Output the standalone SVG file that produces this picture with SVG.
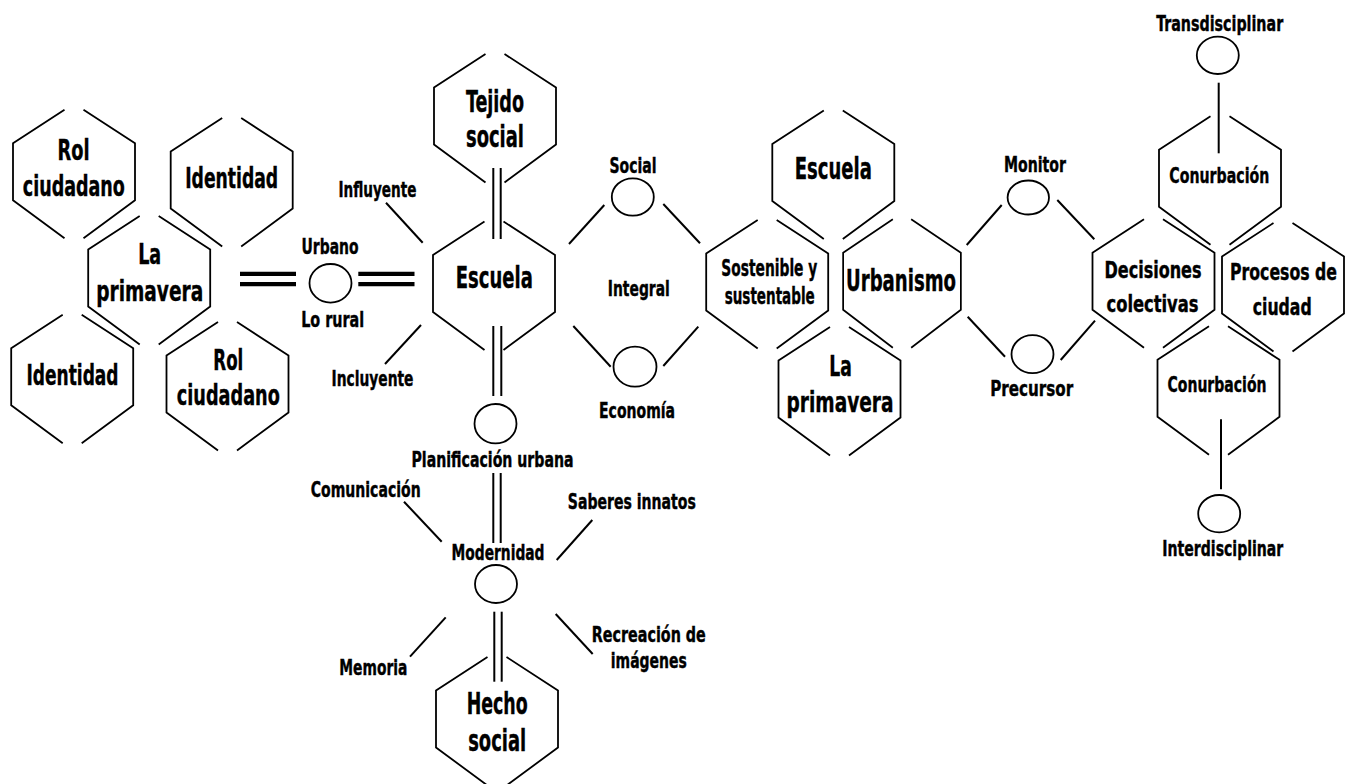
<svg xmlns="http://www.w3.org/2000/svg" xmlns:xlink="http://www.w3.org/1999/xlink" width="1355" height="784" viewBox="0 0 1355 784">
<style>
.hx{fill:none;stroke:#000;stroke-width:1.8;stroke-linecap:butt}
.ln{fill:none;stroke:#000;stroke-width:2}
.thick{fill:none;stroke:#000;stroke-width:4.2}
.ci{fill:#fff;stroke:#000;stroke-width:1.8}
text{font-family:"DejaVu Sans Condensed","DejaVu Sans","Liberation Sans",sans-serif;font-weight:bold;fill:#000;text-anchor:middle;stroke:#000;stroke-width:0.4}
.L{font-size:31px}
.M{font-size:28px}
.S{font-size:23px}
.T{font-size:21px}
</style>
<defs>
<path id="hex" class="hx" d="M -9.5 -62 L -61 -28.5 L -61 28.5 L -9.5 66.5 M 9.5 -62 L 61 -28.5 L 61 28.5 L 9.5 66.5"/>
</defs>
<rect width="1355" height="784" fill="#fff"/>

<g id="connectors">
<line class="thick" x1="240" y1="273.8" x2="296" y2="273.8"/>
<line class="thick" x1="240" y1="284.2" x2="296" y2="284.2"/>
<line class="thick" x1="358.3" y1="273.8" x2="414.5" y2="273.8"/>
<line class="thick" x1="358.3" y1="284.2" x2="414.5" y2="284.2"/>
<line class="ln" x1="493.3" y1="168" x2="493.3" y2="239"/>
<line class="ln" x1="500.7" y1="168" x2="500.7" y2="239"/>
<line class="ln" x1="493.3" y1="326" x2="493.3" y2="396"/>
<line class="ln" x1="501.3" y1="326" x2="501.3" y2="396"/>
<line class="ln" x1="493.3" y1="473" x2="493.3" y2="543"/>
<line class="ln" x1="500.7" y1="473" x2="500.7" y2="543"/>
<line class="ln" x1="494.3" y1="611.7" x2="494.3" y2="681.7"/>
<line class="ln" x1="501.7" y1="611.7" x2="501.7" y2="681.7"/>
<line class="ln" x1="386" y1="202.7" x2="422.7" y2="242.7"/>
<line class="ln" x1="421" y1="325" x2="385" y2="364"/>
<line class="ln" x1="604.3" y1="205" x2="569" y2="244"/>
<line class="ln" x1="663.3" y1="204" x2="700" y2="243.3"/>
<line class="ln" x1="573.3" y1="326" x2="610.7" y2="366.7"/>
<line class="ln" x1="698.3" y1="326.7" x2="663.3" y2="366"/>
<line class="ln" x1="1001.7" y1="205" x2="966.7" y2="245"/>
<line class="ln" x1="1057.3" y1="200" x2="1094.3" y2="239.3"/>
<line class="ln" x1="967.7" y1="316.7" x2="1005" y2="356.7"/>
<line class="ln" x1="1095" y1="320.7" x2="1060.7" y2="360"/>
<line class="ln" x1="404" y1="501.7" x2="441.7" y2="541.7"/>
<line class="ln" x1="592.3" y1="520" x2="556.7" y2="560"/>
<line class="ln" x1="445.7" y1="617.3" x2="410" y2="656.7"/>
<line class="ln" x1="555.7" y1="614" x2="592.7" y2="654"/>
<line class="ln" x1="1218.7" y1="82.7" x2="1218.7" y2="153.3"/>
<line class="ln" x1="1221" y1="419.3" x2="1221" y2="489.3"/>
</g>

<g id="n-rol1"><use xlink:href="#hex" href="#hex" transform="translate(74,171.7)"/>
<text class="M" x="73.5" y="160" textLength="32" lengthAdjust="spacingAndGlyphs">Rol</text>
<text class="M" x="73.8" y="196" textLength="102" lengthAdjust="spacingAndGlyphs">ciudadano</text></g>

<g id="n-identidad1"><use xlink:href="#hex" href="#hex" transform="translate(231.7,180)"/>
<text class="M" x="231.7" y="188.3" textLength="93" lengthAdjust="spacingAndGlyphs">Identidad</text></g>

<g id="n-primavera1"><use xlink:href="#hex" href="#hex" transform="translate(149.2,278)"/>
<text class="M" x="149.7" y="264" textLength="23" lengthAdjust="spacingAndGlyphs">La</text>
<text class="M" x="149.7" y="300.7" textLength="107" lengthAdjust="spacingAndGlyphs">primavera</text></g>

<g id="n-identidad2"><use xlink:href="#hex" href="#hex" transform="translate(72.2,376.7)"/>
<text class="M" x="72.5" y="385" textLength="92" lengthAdjust="spacingAndGlyphs">Identidad</text></g>

<g id="n-rol2"><use xlink:href="#hex" href="#hex" transform="translate(227.5,384)"/>
<text class="M" x="228.3" y="370" textLength="30" lengthAdjust="spacingAndGlyphs">Rol</text>
<text class="M" x="228.3" y="405" textLength="103" lengthAdjust="spacingAndGlyphs">ciudadano</text></g>

<g id="n-urbano"><ellipse class="ci" cx="330.5" cy="283.3" rx="21" ry="19.3"/>
<text class="T" x="330" y="254" textLength="57" lengthAdjust="spacingAndGlyphs">Urbano</text>
<text class="T" x="332.7" y="327.3" textLength="63" lengthAdjust="spacingAndGlyphs">Lo rural</text></g>

<g id="l-influyente"><text class="T" x="377.5" y="196.7" textLength="78" lengthAdjust="spacingAndGlyphs">Influyente</text></g>
<g id="l-incluyente"><text class="T" x="372.5" y="386" textLength="82" lengthAdjust="spacingAndGlyphs">Incluyente</text></g>

<g id="n-tejido"><use xlink:href="#hex" href="#hex" transform="translate(495,116)"/>
<text class="L" x="495" y="111.7" textLength="58" lengthAdjust="spacingAndGlyphs">Tejido</text>
<text class="L" x="495" y="146.7" textLength="58" lengthAdjust="spacingAndGlyphs">social</text></g>

<g id="n-escuela1"><use xlink:href="#hex" href="#hex" transform="translate(494,283.5)"/>
<text class="L" x="494.3" y="288.3" textLength="77" lengthAdjust="spacingAndGlyphs">Escuela</text></g>

<g id="n-planificacion"><ellipse class="ci" cx="495.5" cy="423.7" rx="21" ry="19.7"/>
<text class="T" x="492.5" y="467.3" textLength="162" lengthAdjust="spacingAndGlyphs">Planificación urbana</text></g>

<g id="n-modernidad"><ellipse class="ci" cx="496" cy="584" rx="21" ry="19"/>
<text class="T" x="498" y="560" textLength="93" lengthAdjust="spacingAndGlyphs">Modernidad</text></g>

<g id="l-comunicacion"><text class="T" x="365.7" y="496.7" textLength="110" lengthAdjust="spacingAndGlyphs">Comunicación</text></g>
<g id="l-saberes"><text class="T" x="631.8" y="509.3" textLength="128" lengthAdjust="spacingAndGlyphs">Saberes innatos</text></g>
<g id="l-memoria"><text class="T" x="373.3" y="675" textLength="68" lengthAdjust="spacingAndGlyphs">Memoria</text></g>
<g id="l-recreacion"><text class="T" x="648.8" y="641.7" textLength="114" lengthAdjust="spacingAndGlyphs">Recreación de</text>
<text class="T" x="648.8" y="668" textLength="76" lengthAdjust="spacingAndGlyphs">imágenes</text></g>

<g id="n-hecho"><use xlink:href="#hex" href="#hex" transform="translate(497,719)"/>
<text class="L" x="497.2" y="714.3" textLength="61" lengthAdjust="spacingAndGlyphs">Hecho</text>
<text class="L" x="497.2" y="750.7" textLength="58" lengthAdjust="spacingAndGlyphs">social</text></g>

<g id="n-social"><ellipse class="ci" cx="632.8" cy="197" rx="21" ry="18.7"/>
<text class="T" x="633" y="172.7" textLength="47" lengthAdjust="spacingAndGlyphs">Social</text></g>
<g id="l-integral"><text class="T" x="638.8" y="295.7" textLength="62" lengthAdjust="spacingAndGlyphs">Integral</text></g>
<g id="n-economia"><ellipse class="ci" cx="635" cy="366.7" rx="21.5" ry="20"/>
<text class="T" x="637" y="418.3" textLength="76" lengthAdjust="spacingAndGlyphs">Economía</text></g>

<g id="n-escuela2"><use xlink:href="#hex" href="#hex" transform="translate(833.3,172.5)"/>
<text class="L" x="833.3" y="179.3" textLength="77" lengthAdjust="spacingAndGlyphs">Escuela</text></g>

<g id="n-sostenible"><use xlink:href="#hex" href="#hex" transform="translate(767.2,282)"/>
<text class="S" x="769.3" y="276" textLength="96" lengthAdjust="spacingAndGlyphs">Sostenible y</text>
<text class="S" x="769.7" y="304" textLength="90" lengthAdjust="spacingAndGlyphs">sustentable</text></g>

<g id="n-urbanismo"><use xlink:href="#hex" href="#hex" transform="translate(902,281.3) scale(0.965,1)"/>
<text class="L" x="901" y="290.7" textLength="110" lengthAdjust="spacingAndGlyphs" style="font-size:30px">Urbanismo</text></g>

<g id="n-primavera2"><use xlink:href="#hex" href="#hex" transform="translate(839.5,389)"/>
<text class="M" x="840.5" y="376" textLength="22.5" lengthAdjust="spacingAndGlyphs">La</text>
<text class="M" x="840" y="411.7" textLength="107" lengthAdjust="spacingAndGlyphs">primavera</text></g>

<g id="n-monitor"><ellipse class="ci" cx="1028.3" cy="197.5" rx="20.7" ry="17"/>
<text class="T" x="1035" y="171.7" textLength="62" lengthAdjust="spacingAndGlyphs">Monitor</text></g>

<g id="n-precursor"><ellipse class="ci" cx="1032.5" cy="354.2" rx="21" ry="19"/>
<text class="T" x="1031.7" y="396" textLength="83" lengthAdjust="spacingAndGlyphs">Precursor</text></g>

<g id="n-decisiones"><use xlink:href="#hex" href="#hex" transform="translate(1153.5,281.3)"/>
<text class="S" x="1153" y="278.3" textLength="97" lengthAdjust="spacingAndGlyphs">Decisiones</text>
<text class="S" x="1152.5" y="311.7" textLength="92" lengthAdjust="spacingAndGlyphs">colectivas</text></g>

<g id="n-conurbacion1"><use xlink:href="#hex" href="#hex" transform="translate(1220,178.3)"/>
<text class="S" x="1219.3" y="182.7" textLength="100" lengthAdjust="spacingAndGlyphs" style="font-size:22px">Conurbación</text></g>

<g id="n-procesos"><use xlink:href="#hex" href="#hex" transform="translate(1283,285)"/>
<text class="S" x="1337" y="280" textLength="107" lengthAdjust="spacingAndGlyphs" style="text-anchor:end">Procesos de</text>
<text class="S" x="1282.2" y="315" textLength="59" lengthAdjust="spacingAndGlyphs">ciudad</text></g>

<g id="n-conurbacion2"><use xlink:href="#hex" href="#hex" transform="translate(1218.5,388.3)"/>
<text class="S" x="1217" y="391.7" textLength="99" lengthAdjust="spacingAndGlyphs" style="font-size:22px">Conurbación</text></g>

<g id="n-trans"><ellipse class="ci" cx="1217.8" cy="55.3" rx="21" ry="18.7"/>
<text class="T" x="1219.7" y="30.7" textLength="127" lengthAdjust="spacingAndGlyphs" style="font-size:22px">Transdisciplinar</text></g>

<g id="n-inter"><ellipse class="ci" cx="1219.2" cy="513.7" rx="21" ry="18.7"/>
<text class="T" x="1222.8" y="556" textLength="121" lengthAdjust="spacingAndGlyphs">Interdisciplinar</text></g>
</svg>
